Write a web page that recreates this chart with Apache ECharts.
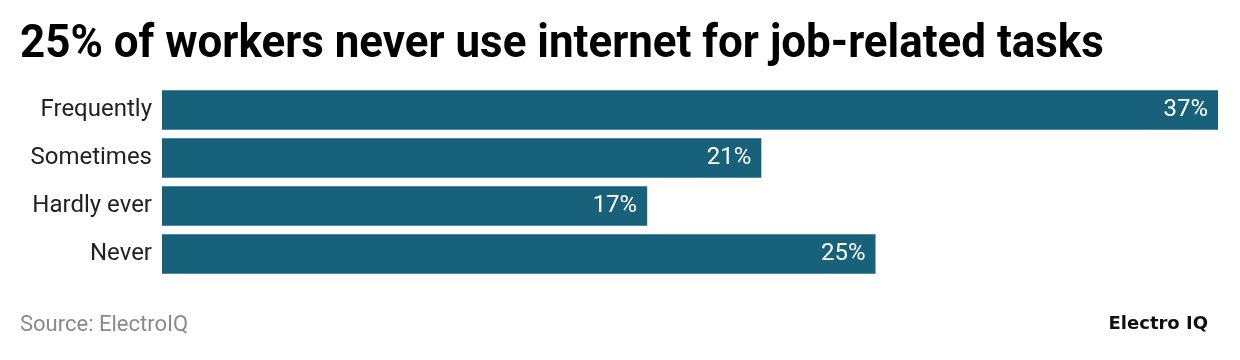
<!DOCTYPE html>
<html><head><meta charset="utf-8">
<script src="https://cdn.jsdelivr.net/npm/echarts@6/dist/echarts.min.js"></script>
<style>html,body{margin:0;padding:0;background:#fff}#c{width:1240px;height:360px}</style>
</head><body><div id="c"></div>
<script>
const categories = ["Frequently", "Sometimes", "Hardly ever", "Never"];
const values = [37, 21, 17, 25];
const titleText = "25% of workers never use internet for job-related tasks";
const sourceText = "Source: ElectroIQ";
const brandText = "Electro IQ";

const chart = echarts.init(document.getElementById('c'), null, {renderer: 'canvas'});
chart.setOption({
  animation: false,
  backgroundColor: '#ffffff',
  grid: {left: 162, right: 22, top: 86, height: 192, containLabel: false},
  xAxis: {type: 'value', min: 0, max: 37, show: false},
  yAxis: {
    type: 'category', data: categories, inverse: true,
    axisLine: {show: false}, axisTick: {show: false},
    axisLabel: {color: '#222222', fontFamily: 'Roboto', fontSize: 24, margin: 10}
  },
  series: [{
    type: 'bar', data: values, barCategoryGap: '18%',
    itemStyle: {color: '#17617a'},
    label: {show: true, position: 'insideRight', distance: 10, color: '#ffffff',
      fontFamily: 'Roboto', fontSize: 24, formatter: '{c}%'}
  }],
  graphic: [
    {type: 'text', left: 20, top: 22, scaleX: 0.955,
      style: {text: titleText, font: 'bold 46px Roboto', fill: '#000000'}},
    {type: 'text', left: 20, top: 314,
      style: {text: sourceText, font: '22px Roboto', fill: '#8a8a8a'}},
    {type: 'text', right: 32, top: 315,
      style: {text: brandText, font: 'bold 18px "DejaVu Sans"', fill: '#111111'}}
  ]
});
</script></body></html>
